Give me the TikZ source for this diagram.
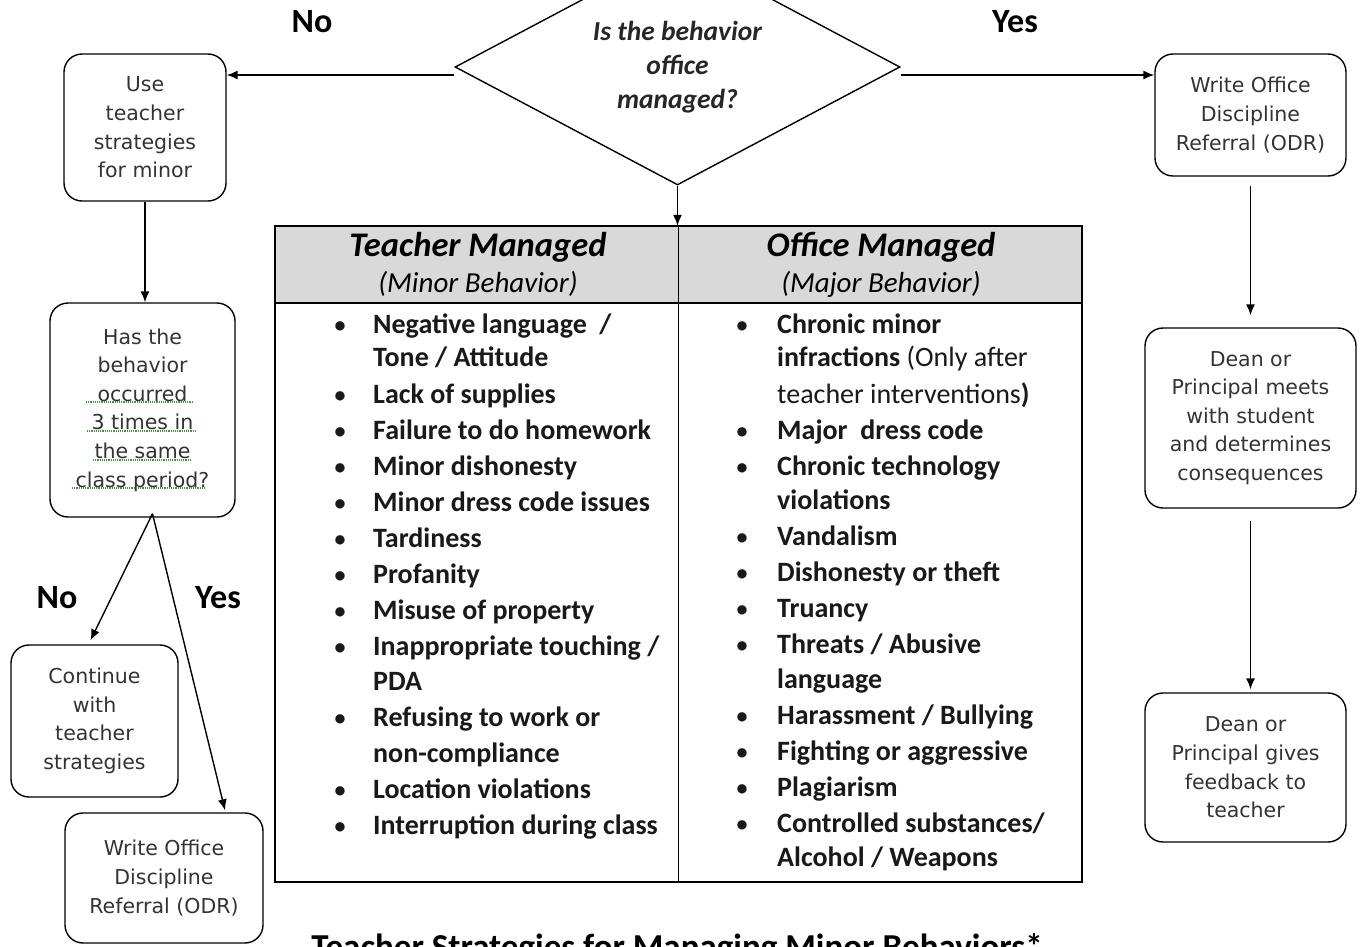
\documentclass[tikz,border=0pt]{standalone}
\usepackage{fontspec}
\setmainfont{Carlito}
\newfontfamily\boxfont{DejaVu Sans}
\usetikzlibrary{arrows.meta,calc,shapes.geometric}
\definecolor{hdrgray}{HTML}{D9D9D9}
\definecolor{spellgreen}{HTML}{3C9A3C}
\tikzset{
  flowbox/.style={draw=black, line width=1.4pt, rounded corners=18pt, align=center,
    inner sep=2pt, font=\boxfont\fontsize{20.5}{28.6}\selectfont, text=black!80},
  arr/.style={line width=1.4pt, -{Latex[length=11pt,width=9pt]}},
  lbl/.style={font=\fontsize{34}{38}\selectfont\bfseries, text=black},
  item/.style={anchor=base west, inner sep=0pt, font=\fontsize{28}{30}\selectfont\bfseries, text=black!90},
  bul/.style={anchor=base, inner sep=0pt, font=\fontsize{22}{30}\selectfont\bfseries, text=black!90},
  hdr/.style={inner sep=0pt, font=\fontsize{34.5}{36}\selectfont\bfseries\itshape},
  subhdr/.style={inner sep=0pt, font=\fontsize{29}{30}\selectfont\itshape},
}
\begin{document}
\begin{tikzpicture}[x=1pt,y=-1pt]
\useasboundingbox (0,0) rectangle (1360,946);
\fill[white] (0,0) rectangle (1360,946);

% decision diamond
\node[draw, line width=1.4pt, diamond, aspect=1.886, minimum width=445pt, minimum height=236pt,
      inner sep=0pt, align=center, font=\fontsize{27.5}{34}\selectfont\bfseries\itshape, text=black!85]
  (q) at (677.5,67) {Is the behavior\\office\\managed?};

% labels
\node[lbl] (no1) at (312,22) {No};
\node[lbl] (yes1) at (1015,22) {Yes};
\node[lbl] (no2) at (57,598) {No};
\node[lbl] (yes2) at (218,598) {Yes};

% left boxes
\node[flowbox, minimum width=162pt, minimum height=147pt] (b1) at (145,127.5)
  {Use\\teacher\\strategies\\for minor};
\node[flowbox, minimum width=185pt, minimum height=214pt] (b2) at (142.5,410)
  {Has the\\behavior\\occurred\\3 times in\\the same\\class period?};
\node[flowbox, minimum width=167pt, minimum height=152pt] (b3) at (94.5,721)
  {Continue\\with\\teacher\\strategies};
\node[flowbox, minimum width=198pt, minimum height=130pt] (b4) at (164,878)
  {Write Office\\Discipline\\Referral (ODR)};

% right boxes
\node[flowbox, minimum width=191pt, minimum height=122pt] (b5) at (1250.5,115)
  {Write Office\\Discipline\\Referral (ODR)};
\node[flowbox, minimum width=211pt, minimum height=180pt] (b6) at (1250.5,418)
  {Dean or\\Principal meets\\with student\\and determines\\consequences};
\node[flowbox, minimum width=201pt, minimum height=149pt] (b7) at (1245.5,767.5)
  {Dean or\\Principal gives\\feedback to\\teacher};

% spell-check underlines in b2
\foreach \ya/\xa/\xb in {402/86/192, 431/87/195, 460/93/192, 488/72/205}
  \draw[spellgreen, densely dotted, line width=1.2pt] (\xa,\ya) -- (\xb,\ya);

% table
\node[draw=none, minimum width=807pt, minimum height=656pt, inner sep=0pt] (tbl) at (678.5,554) {};
\fill[hdrgray] (tbl.north west) rectangle (1082,303);
\draw[line width=1.8pt] (tbl.north west) rectangle (tbl.south east);
\draw[line width=1.8pt] (275,303) -- (1082,303);
\draw[line width=1.3pt] (tbl.north) -- (tbl.south);

\node[hdr] (h1) at (478,247) {Teacher Managed};
\node[subhdr] (s1) at (478,284) {(Minor Behavior)};
\node[hdr] (h2) at (881,247) {Office Managed};
\node[subhdr] (s2) at (881,284) {(Major Behavior)};

% left column
\foreach \yy/\tt/\bb [count=\i] in {
  323/{Negative language\ \ /}/1, 356/{Tone / Attitude}/0, 393/{Lack of supplies}/1,
  429/{Failure to do homework}/1, 465/{Minor dishonesty}/1, 501/{Minor dress code issues}/1,
  537/{Tardiness}/1, 573/{Profanity}/1, 609/{Misuse of property}/1,
  645/{Inappropriate touching /}/1, 680/{PDA}/0, 716/{Refusing to work or}/1,
  752/{non-compliance}/0, 788/{Location violations}/1, 824/{Interruption during class}/1}
{
  \node[item] (l\i) at (373,\yy+10) {\tt};
  \ifnum\bb=1 \node[bul] (lb\i) at (340,\yy+9) {\textbullet}; \fi
}

% right column
\foreach \yy/\tt/\bb [count=\i] in {
  323/{Chronic minor}/1, 356/{infractions {\mdseries(Only after}}/0,
  393/{{\mdseries teacher interventions})}/0, 429/{Major\ \ dress code}/1,
  465/{Chronic technology}/1, 499/{violations}/0, 535/{Vandalism}/1,
  571/{Dishonesty or theft}/1, 607/{Truancy}/1, 643/{Threats / Abusive}/1,
  678/{language}/0, 714/{Harassment / Bullying}/1, 750/{Fighting or aggressive}/1,
  786/{Plagiarism}/1, 822/{Controlled substances/}/1, 856/{Alcohol / Weapons}/0}
{
  \node[item] (r\i) at (777,\yy+10) {\tt};
  \ifnum\bb=1 \node[bul] (rb\i) at (742,\yy+9) {\textbullet}; \fi
}

% bottom title (cut off by page edge, as in the reference)
\node[anchor=base, inner sep=0pt, font=\fontsize{35}{38}\selectfont\bfseries] (title) at (677,958)
  {Teacher Strategies for Managing Minor Behaviors*};

% connectors
\coordinate (qL) at ($(q.west)+(0,8)$);
\coordinate (qR) at ($(q.east)+(0,8)$);
\draw[arr] (qL) -- (qL -| b1.east);
\draw[arr] (qR) -- (qR -| b5.west);
\draw[arr] (q.south) -- (q.south |- tbl.north);
\draw[arr] (b1.south) -- (b1.south |- b2.north);
\coordinate (b2o) at ($(b2.south)+(10,-4)$);
\draw[arr] (b2o) -- ($(b3.north)+(-4,-4)$);
\draw[arr] (b2o) -- ($(b4.north)+(61,-2)$);
\draw[arr, shorten <=9pt] (b5.south) -- ($(b6.north)+(0,-12)$);
\draw[arr, shorten <=12pt] (b6.south) -- ($(b6.south |- b7.north)+(0,-3)$);
\end{tikzpicture}
\end{document}
